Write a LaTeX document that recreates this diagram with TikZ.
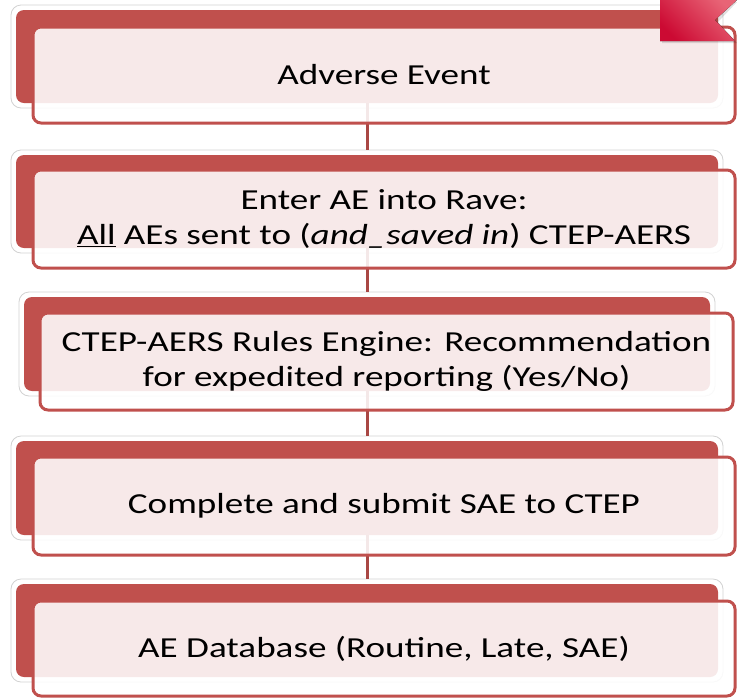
\documentclass[tikz,border=0pt]{standalone}
\usepackage{fontspec}
\setmainfont{Carlito}[FakeStretch=1.28]
\usepackage{tikz}

\definecolor{aered}{HTML}{C0504D}
\definecolor{aeline}{HTML}{A94744}
\definecolor{glowgray}{HTML}{D2D2D2}
\definecolor{ribdark}{HTML}{CC0A33}
\definecolor{riblight}{HTML}{E86476}

\tikzset{
    glowbox/.style={draw=glowgray, line width=0.8pt, fill=white, rounded corners=10pt, inner sep=0pt},
    backbox/.style={fill=aered, rounded corners=8pt, inner sep=0pt},
    frontbox/.style={draw=aered, line width=3pt, fill=white, fill opacity=0.88, text opacity=1,
        rounded corners=8pt, align=center, inner sep=0pt, font=\fontsize{29}{35}\selectfont},
    link/.style={draw=aeline, line width=3pt}
}

\begin{document}
\begin{tikzpicture}[x=1pt, y=-1pt]
    \useasboundingbox (0,0) rectangle (737,697);

    % glow behind the red boxes
    \node[glowbox, minimum width=712pt, minimum height=103pt] (glow1) at (367,56.5) {};
    \node[glowbox, minimum width=712pt, minimum height=103pt] (glow2) at (367,201.5) {};
    \node[glowbox, minimum width=696pt, minimum height=104pt] (glow3) at (367,344) {};
    \node[glowbox, minimum width=712pt, minimum height=104pt] (glow4) at (367,488) {};
    \node[glowbox, minimum width=712pt, minimum height=103pt] (glow5) at (367,630.5) {};

    % red boxes
    \node[backbox, minimum width=702pt, minimum height=93pt] (back1) at (367,56.5) {};
    \node[backbox, minimum width=702pt, minimum height=93pt] (back2) at (367,201.5) {};
    \node[backbox, minimum width=686pt, minimum height=94pt] (back3) at (367,344) {};
    \node[backbox, minimum width=702pt, minimum height=94pt] (back4) at (367,488) {};
    \node[backbox, minimum width=702pt, minimum height=93pt] (back5) at (367,630.5) {};

    % links
    \draw[link] (back1.south) -- (glow2.north);
    \draw[link] (back2.south) -- (glow3.north);
    \draw[link] (back3.south) -- (glow4.north);
    \draw[link] (back4.south) -- (glow5.north);

    % text boxes
    \node[frontbox, minimum width=702pt, minimum height=96pt] (adverse) at (384,75) {Adverse Event};
    \node[frontbox, minimum width=702pt, minimum height=98pt] (rave) at (384,219)
        {Enter AE into Rave:\\ \underline{All} AEs sent to (\textit{and\_saved in}) CTEP-AERS};
    \node[frontbox, minimum width=693pt, minimum height=97pt] (rules) at (386.5,361.5)
        {CTEP-AERS Rules Engine: Recommendation\\ for expedited reporting (Yes/No)};
    \node[frontbox, minimum width=702pt, minimum height=98pt] (submit) at (384,506) {Complete and submit SAE to CTEP};
    \node[frontbox, minimum width=702pt, minimum height=95pt] (database) at (384,648.5) {AE Database (Routine, Late, SAE)};

    % ribbon in the corner
    \fill[black, opacity=0.12] (662,2) -- (737,2) -- (718,22) -- (737,43) -- (662,43) -- cycle;
    \fill[top color=riblight, bottom color=ribdark, shading angle=-45]
        (660,0) -- (737,0) -- (715,20) -- (735,41) -- (660,41) -- cycle;
\end{tikzpicture}
\end{document}
